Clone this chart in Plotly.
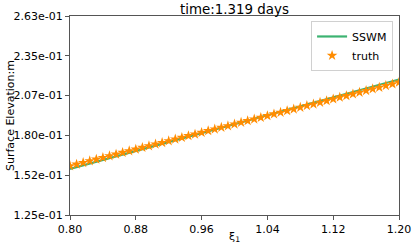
import plotly.graph_objects as go

# x positions of the truth samples (0.80 .. 1.20)
truth_x = [0.800, 0.808, 0.816, 0.824, 0.832, 0.840, 0.848, 0.856, 0.864, 0.872,
           0.880, 0.888, 0.896, 0.904, 0.912, 0.920, 0.928, 0.936, 0.944, 0.952,
           0.960, 0.968, 0.976, 0.984, 0.992, 1.000, 1.008, 1.016, 1.024, 1.032,
           1.040, 1.048, 1.056, 1.064, 1.072, 1.080, 1.088, 1.096, 1.104, 1.112,
           1.120, 1.128, 1.136, 1.144, 1.152, 1.160, 1.168, 1.176, 1.184, 1.192,
           1.200]
truth_y = [0.1590, 0.1602, 0.1613, 0.1625, 0.1636, 0.1648, 0.1660, 0.1671, 0.1683, 0.1694,
           0.1706, 0.1718, 0.1729, 0.1741, 0.1752, 0.1764, 0.1776, 0.1787, 0.1799, 0.1810,
           0.1822, 0.1834, 0.1845, 0.1857, 0.1868, 0.1880, 0.1892, 0.1903, 0.1915, 0.1926,
           0.1938, 0.1950, 0.1961, 0.1973, 0.1984, 0.1996, 0.2008, 0.2019, 0.2031, 0.2042,
           0.2054, 0.2066, 0.2077, 0.2089, 0.2100, 0.2112, 0.2124, 0.2135, 0.2147, 0.2158,
           0.2170]

sswm_x = [0.80, 0.84, 0.88, 0.92, 0.96, 1.00, 1.04, 1.08, 1.12, 1.16, 1.20]
sswm_y = [0.1570, 0.1632, 0.1694, 0.1756, 0.1818, 0.1880, 0.1942, 0.2004, 0.2066, 0.2128, 0.2190]

x_ticks = [0.80, 0.88, 0.96, 1.04, 1.12, 1.20]
y_ticks = [0.125, 0.1526, 0.1802, 0.2078, 0.2354, 0.263]
y_tick_labels = ["1.25e-01", "1.52e-01", "1.80e-01", "2.07e-01", "2.35e-01", "2.63e-01"]

font = "DejaVu Sans"
fs = 11

fig = go.Figure()
fig.add_trace(go.Scatter(x=sswm_x, y=sswm_y, mode="lines", name="SSWM",
                         line=dict(color="#3cb371", width=2.2)))
fig.add_trace(go.Scatter(x=truth_x, y=truth_y, mode="markers", name="truth",
                         marker=dict(symbol="star", size=8, color="#ff8c00",
                                     line=dict(width=0))))

axis_common = dict(showgrid=False, zeroline=False, showline=True, mirror=True,
                   linecolor="#555555", linewidth=1, ticks="outside", ticklen=4,
                   tickcolor="#555555", automargin=False,
                   tickfont=dict(family=font, size=fs, color="black"))

fig.update_layout(
    width=416, height=247,
    margin=dict(l=70, r=17, t=16, b=32),
    plot_bgcolor="white", paper_bgcolor="white",
    font=dict(family=font, size=fs, color="black"),
    title=dict(text="time:1.319 days", x=0.5, xref="paper", yref="container", y=0.962,
               yanchor="middle", xanchor="center",
               font=dict(family=font, size=13.4)),
    legend=dict(x=0.982, y=0.975, xanchor="right", yanchor="top",
                bordercolor="#d0d0d0", borderwidth=1, bgcolor="rgba(255,255,255,0.8)",
                font=dict(family=font, size=fs), itemwidth=30),
    xaxis=dict(range=[0.80, 1.20], tickvals=x_ticks, tickformat=".2f", **axis_common),
    yaxis=dict(range=[0.125, 0.263], tickvals=y_ticks, ticktext=y_tick_labels, **axis_common),
)

# axis titles as annotations so they sit where the reference has them
fig.add_annotation(text="ξ<sub>1</sub>", xref="paper", yref="paper", x=0.5, y=0,
                   yshift=-31, xanchor="center", yanchor="bottom", showarrow=False,
                   font=dict(family=font, size=fs))
fig.add_annotation(text="Surface Elevation:m", xref="paper", yref="paper", x=0, y=0.5,
                   xshift=-68, xanchor="left", yanchor="middle", textangle=-90,
                   showarrow=False, font=dict(family=font, size=fs))

fig.write_html("out.html", config={"displayModeBar": False},
               post_script="document.body.style.margin='0';")
